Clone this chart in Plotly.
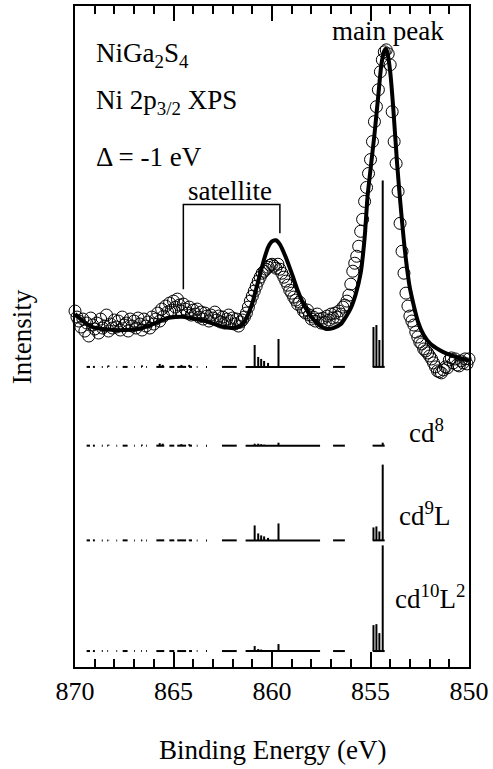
import plotly.graph_objects as go

# ---------------- data ----------------
# experimental Ni 2p3/2 XPS (binding energy in eV, intensity arb. units)
exp_energy = [round(870.0 - 0.1 * i, 1) for i in range(201)]
exp_intensity = [
    357, 351, 347, 341, 349, 337, 345, 332, 350, 343, 339,
    345, 335, 349, 340, 342, 353, 337, 344, 340, 348,
    341, 347, 338, 351, 343, 345, 337, 349, 342, 347,
    340, 350, 344, 338, 349, 342, 346, 340, 351, 344,
    349, 355, 347, 359, 352, 362, 356, 365, 358, 367,
    361, 369, 363, 357, 364, 359, 355, 361, 353, 358,
    354, 359, 351, 356, 349, 355, 352, 347, 353, 350,
    356, 348, 352, 346, 351, 345, 349, 353, 347, 350,
    344, 349, 342, 346, 348, 351, 355, 361, 367, 372,
    377, 382, 387, 391, 395, 397, 399, 401, 403, 404,
    402, 400, 404, 399, 395, 391, 387, 383, 378, 375,
    371, 368, 364, 366, 361, 357, 355, 358, 353, 349,
    351, 347, 354, 349, 345, 350, 346, 352, 348, 354,
    350, 355, 351, 357, 354, 361, 363, 367, 373, 384,
    397, 405, 412, 422, 437, 449, 467, 481, 495, 509,
    527, 547, 562, 579, 597, 609, 617, 619, 615, 604,
    557, 527, 505, 477, 445, 417, 395, 375, 362, 352,
    347, 343, 336, 331, 326, 324, 319, 317, 315, 312,
    309, 305, 301, 297, 296, 295, 298, 301, 300, 308,
    310, 305, 309, 303, 302, 307, 305, 309, 304, 309,
]

# calculated (broadened) spectrum
fit_energy = [870.0, 869.6, 869.1, 868.6, 868.0, 867.4, 866.8, 866.3, 865.8, 865.3,
              864.9, 864.4, 863.9, 863.4, 862.9, 862.4, 862.0, 861.6, 861.3, 861.0,
              860.7, 860.4, 860.2, 860.0, 859.8, 859.6, 859.3, 859.0, 858.7, 858.4,
              858.0, 857.6, 857.2, 856.9, 856.5, 856.0, 855.75, 855.5, 855.3, 855.15,
              855.0, 854.8, 854.6, 854.45, 854.3, 854.22, 854.15, 854.0, 853.85, 853.65,
              853.5, 853.25, 853.0, 852.6, 852.3, 851.95, 851.5, 851.1, 850.5, 850.0]
fit_intensity = [354, 347, 341, 339, 338, 338, 339, 342, 346, 350,
                 351, 351, 349, 347, 344, 341, 340, 342, 350, 365,
                 387, 409, 421, 427, 428, 424, 411, 395, 378, 364,
                 351, 343, 339, 340, 344, 360, 374, 395, 430, 472,
                 499, 534, 574, 604, 618, 620, 617, 597, 562, 505,
                 469, 417, 380, 347, 333, 324, 318, 314, 310, 307]

# discrete final states (stick spectra)
state_energy = [854.38, 854.55, 854.70, 854.85, 859.67, 860.20, 860.40, 860.55, 860.70, 860.88,
                865.70, 865.55, 864.60, 864.20, 868.30, 866.60]
weight_total = [187, 27, 42, 40, 28, 4, 6, 8, 10, 22, 3, 2, 2, 2, 1.5, 1.5]
weight_cd8 = [3, 0.5, 0.5, 0.5, 3, 0.5, 1, 1.5, 2, 2, 2.5, 2, 1.5, 1.5, 1, 1]
weight_cd9L = [76, 9, 14, 13, 17, 2.5, 4, 5, 7, 15, 0.5, 0.5, 0.5, 0.5, 0.5, 0.5]
weight_cd10L2 = [106, 18, 27, 26, 7, 0.5, 0.5, 1.5, 2, 5, 0, 0, 0, 0, 0, 0]

# energy ranges where final states exist (drawn as baseline pieces)
segment_start = [869.41, 869.09, 868.64, 868.36, 867.90, 867.58, 867.00, 866.64, 866.39, 865.87,
                 865.21, 864.81, 864.21, 863.82, 863.35, 862.54, 861.34, 856.90, 854.89]
segment_end = [869.24, 868.99, 868.59, 868.32, 867.86, 867.33, 866.96, 866.60, 866.35, 865.47,
               864.96, 864.36, 864.06, 863.78, 863.30, 861.79, 857.56, 856.30, 854.28]

x_ticks = [870, 865, 860, 855, 850]

# ---------------- layout constants ----------------
FONT = "Times New Roman, Liberation Serif, DejaVu Serif, serif"
offsets = {"total": 301, "cd8": 222, "cd9L": 127, "cd10L2": 16}

fig = go.Figure()


def stick_trace(weights, base):
    xs, ys = [], []
    for s, e in zip(segment_start, segment_end):
        xs += [s, e, None]
        ys += [base, base, None]
    for en, w in zip(state_energy, weights):
        if w > 0:
            xs += [en, en, None]
            ys += [base, base + w, None]
    return go.Scatter(x=xs, y=ys, mode="lines", line=dict(color="black", width=2),
                      hoverinfo="skip", showlegend=False, cliponaxis=False)


fig.add_trace(stick_trace(weight_total, offsets["total"]))
fig.add_trace(stick_trace(weight_cd8, offsets["cd8"]))
fig.add_trace(stick_trace(weight_cd9L, offsets["cd9L"]))
fig.add_trace(stick_trace(weight_cd10L2, offsets["cd10L2"]))

fig.add_trace(go.Scatter(
    x=exp_energy, y=exp_intensity, mode="markers",
    marker=dict(symbol="circle-open", size=12, color="black", line=dict(width=1, color="black")),
    showlegend=False, cliponaxis=False, name="experiment"))

fig.add_trace(go.Scatter(
    x=fit_energy, y=fit_intensity, mode="lines",
    line=dict(color="black", width=4, shape="spline", smoothing=0.6),
    showlegend=False, cliponaxis=False, name="calculation"))

# satellite bracket
fig.add_shape(type="path", xref="x", yref="y",
              path="M 864.5 379 L 864.5 464 L 859.6 464 L 859.6 435",
              line=dict(color="black", width=1.5))

def ann(text, x, y, xanchor="left", yanchor="middle", xref="x", yref="y", size=27, angle=0):
    fig.add_annotation(text=text, x=x, y=y, xref=xref, yref=yref, xanchor=xanchor,
                       yanchor=yanchor, showarrow=False, textangle=angle,
                       font=dict(family=FONT, size=size, color="black"))

ann("NiGa<sub>2</sub>S<sub>4</sub>", 869.05, 614)
ann("Ni 2p<sub>3/2</sub> XPS", 869.05, 567)
ann("Δ = -1 eV", 869.05, 512)
ann("satellite", 862.15, 477, xanchor="center")
ann("main peak", 854.13, 638, xanchor="center")
ann("cd<sup>8</sup>", 853.15, 237)
ann("cd<sup>9</sup>L", 853.65, 153)
ann("cd<sup>10</sup>L<sup>2</sup>", 853.85, 70)

ann("Binding Energy (eV)", 0.5, -0.125, xanchor="center", xref="paper", yref="paper")
ann("Intensity", -0.135, 0.5, xanchor="center", xref="paper", yref="paper", angle=-90)

fig.update_layout(
    width=493, height=769,
    margin=dict(l=75, r=21, t=4, b=102),
    paper_bgcolor="white", plot_bgcolor="white",
    font=dict(family=FONT, size=26, color="black"),
    showlegend=False,
)
fig.update_xaxes(
    range=[870, 850], tickvals=x_ticks, ticks="inside", ticklen=15, tickwidth=2,
    tickcolor="black", showline=True, linewidth=2, linecolor="black", mirror="ticks",
    showgrid=False, zeroline=False, tickfont=dict(family=FONT, size=26),
    minor=dict(ticks="inside", ticklen=8, tickwidth=1.5, tickcolor="black", dtick=1, showgrid=False),
)
fig.update_yaxes(
    range=[0, 663], showticklabels=False, ticks="", showline=True, linewidth=2,
    linecolor="black", mirror=True, showgrid=False, zeroline=False,
)

fig.write_html("out.html", config={"displayModeBar": False},
               post_script="document.body.style.margin='0px';")
